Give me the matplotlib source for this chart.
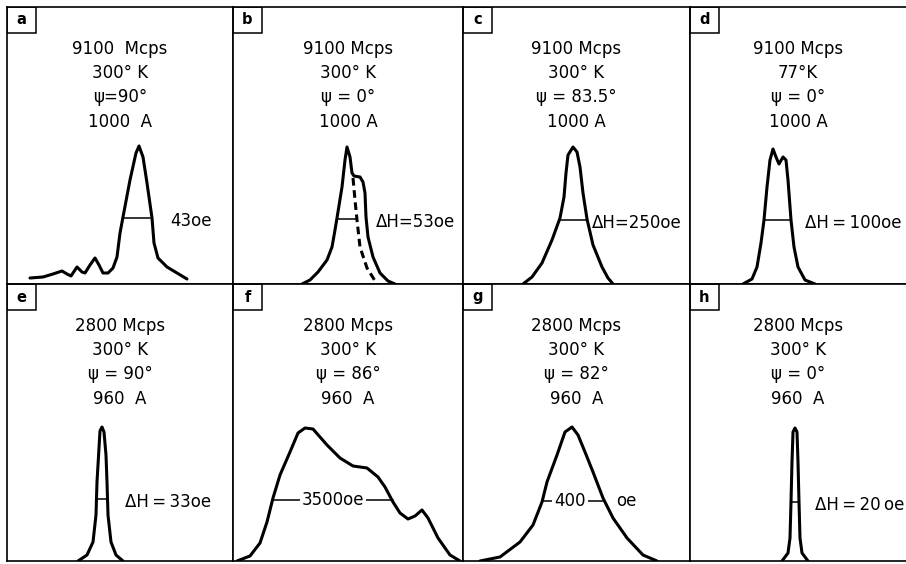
import matplotlib
matplotlib.use("Agg")
import matplotlib.pyplot as plt
from matplotlib.patches import Rectangle

plt.rcParams['font.family'] = ['DejaVu Sans']

# resonance traces (arbitrary field / absorption units)
a_field = [23, 36, 46, 55, 60, 64, 70, 75, 78, 83, 88, 92, 96, 101, 106, 110, 113, 116, 123, 129, 132, 136, 140, 145, 147, 151, 160, 170, 180]
a_signal = [6, 7, 10, 13, 10, 8, 17, 12, 11, 19, 26, 19, 11, 11, 16, 27, 51, 67, 104, 131, 138, 127, 101, 66, 41, 26, 17, 11, 5]

b_field = [69, 77, 85, 94, 99, 102, 104, 109, 112, 114, 117, 119, 121, 127, 130, 132, 133, 135, 140, 147, 155, 162]
b_signal = [0, 4, 12, 24, 37, 54, 66, 97, 124, 137, 127, 111, 108, 107, 102, 91, 67, 47, 27, 11, 3, 0]
b_dash_field = [120, 122, 124, 127, 134, 144]
b_dash_signal = [106, 84, 64, 37, 16, 0]

c_field = [60, 69, 79, 89, 97, 101, 103, 105, 110, 114, 117, 120, 124, 130, 139, 145, 150]
c_signal = [0, 7, 21, 44, 66, 87, 111, 129, 137, 132, 117, 91, 65, 39, 17, 6, 0]

d_field = [53, 62, 67, 71, 74, 77, 80, 83, 86, 89, 93, 96, 98, 101, 104, 108, 115, 125]
d_signal = [0, 5, 17, 41, 64, 97, 124, 135, 127, 120, 127, 124, 104, 64, 37, 17, 4, 0]

e_field = [71, 80, 86, 89, 90, 92, 93, 95, 97, 99, 100, 101, 104, 109, 116]
e_signal = [0, 6, 19, 46, 79, 113, 130, 134, 129, 106, 79, 46, 19, 6, 0]

f_field = [4, 17, 27, 34, 40, 47, 57, 65, 72, 80, 94, 107, 120, 134, 145, 152, 160, 167, 175, 182, 189, 195, 205, 217, 227]
f_signal = [0, 5, 18, 39, 63, 86, 109, 128, 133, 132, 116, 103, 95, 93, 84, 74, 59, 48, 42, 45, 51, 43, 23, 6, 0]

g_field = [17, 37, 57, 70, 79, 84, 94, 102, 109, 115, 122, 130, 140, 150, 164, 180, 194]
g_signal = [0, 4, 19, 36, 59, 79, 106, 129, 134, 126, 109, 89, 63, 43, 23, 6, 0]

h_field = [92, 98, 100, 101, 102, 103, 105, 107, 108, 109, 110, 112, 118]
h_signal = [0, 8, 23, 59, 99, 129, 133, 129, 99, 59, 23, 8, 0]

panel_letters = ["a", "b", "c", "d", "e", "f", "g", "h"]
freqs = ["9100  Mcps", "9100 Mcps", "9100 Mcps", "9100 Mcps",
         "2800 Mcps", "2800 Mcps", "2800 Mcps", "2800 Mcps"]
temps = ["300° K", "300° K", "300° K", "77°K", "300° K", "300° K", "300° K", "300° K"]
angles = ["ψ=90°", "ψ = 0°", "ψ = 83.5°", "ψ = 0°", "ψ = 90°", "ψ = 86°", "ψ = 82°", "ψ = 0°"]
thick = ["1000  A", "1000 A", "1000 A", "1000 A", "960  A", "960  A", "960  A", "960  A"]

# half-width markers: (left, right, height) and width label
half_widths = [(116, 143, 66), (104, 124, 65), (97, 124, 64), (75, 101, 64),
               (90, 100, 62), (40, 160, 61), (79, 140, 60), (101, 109, 59)]
width_labels = ["43oe", "ΔH=53oe", "ΔH=250oe", "ΔH\u2009=\u2009100oe",
                "ΔH\u2009=\u200933oe", "3500oe", "400", "ΔH\u2009=\u200920\u2009oe"]
width_label_x = [184, 182, 174, 163, 161, 100, 107, 170]

curves = [(a_field, a_signal), (b_field, b_signal), (c_field, c_signal), (d_field, d_signal),
          (e_field, e_signal), (f_field, f_signal), (g_field, g_signal), (h_field, h_signal)]

W, H = 906, 564
col_left = [7, 233, 463, 690]
col_width = [226, 230, 227, 216]
row_bottom = [284, 561]
row_height = 277
text_y = [235, 211, 187, 162]

fig = plt.figure(figsize=(W / 100, H / 100), dpi=100)

for i in range(8):
    r, c = divmod(i, 4)
    ax = fig.add_axes([col_left[c] / W, (H - row_bottom[r]) / H,
                       col_width[c] / W, row_height / H])
    ax.set_xlim(0, col_width[c])
    ax.set_ylim(0, row_height)
    ax.set_xticks([])
    ax.set_yticks([])
    for s in ax.spines.values():
        s.set_linewidth(1.2)
    if c == 3:
        ax.spines['right'].set_visible(False)

    # letter box in the corner
    ax.add_patch(Rectangle((0, row_height - 26), 29, 26, fill=False, lw=1.1, color='black'))
    ax.text(14.5, row_height - 13, panel_letters[i], ha='center', va='center',
            fontsize=10.5, fontweight='bold')

    cx = col_width[c] / 2
    for txt, y in zip([freqs[i], temps[i], angles[i], thick[i]], text_y):
        ax.text(cx, y, txt, ha='center', va='center', fontsize=12)

    xs, ys = curves[i]
    ax.plot(xs, ys, color='black', lw=2.2, solid_joinstyle='round', solid_capstyle='round')
    if i == 1:
        ax.plot(b_dash_field, b_dash_signal, color='black', lw=2.2, linestyle=(0, (2.5, 1.5)))

    x0, x1, hy = half_widths[i]
    ax.plot([x0, x1], [hy, hy], color='black', lw=1.1)
    if i in (5, 6):
        ax.text(width_label_x[i], hy, width_labels[i], ha='center', va='center', fontsize=12,
                bbox=dict(facecolor='white', edgecolor='none', pad=1.5))
        if i == 6:
            ax.text(163, hy, "oe", ha='center', va='center', fontsize=12)
    else:
        ax.text(width_label_x[i], hy - 3, width_labels[i], ha='center', va='center', fontsize=12)

fig.savefig("out.png", dpi=100)
